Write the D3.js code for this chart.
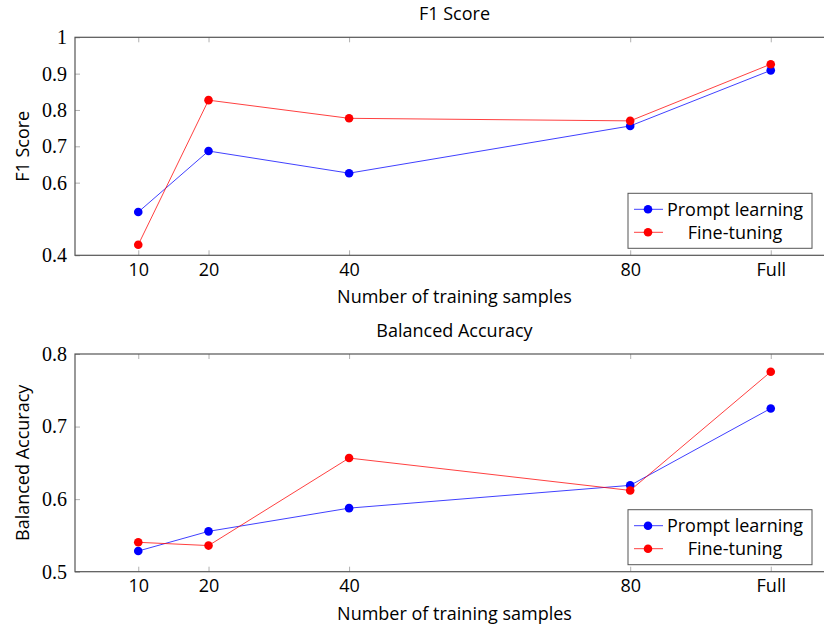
<!DOCTYPE html>
<html>
<head>
<meta charset="utf-8">
<script src="https://cdn.jsdelivr.net/npm/d3@7"></script>
<style>
  html, body { margin: 0; padding: 0; background: #fff; }
  svg { display: block; }
  .sans { font-family: "Open Sans", sans-serif; }
</style>
</head>
<body>
<svg id="chart" width="824" height="628"></svg>
<script>
// ---- data ----
const categories = ["10", "20", "40", "80", "Full"];
const xValues = [10, 20, 40, 80, 100];
const f1Prompt = [0.519, 0.687, 0.626, 0.756, 0.909];
const f1Fine   = [0.429, 0.827, 0.777, 0.770, 0.926];
const baPrompt = [0.5285, 0.5556, 0.5876, 0.619, 0.725];
const baFine   = [0.5405, 0.536, 0.6566, 0.612, 0.7755];
const f1Ticks = [0.4, 0.6, 0.7, 0.8, 0.9, 1];
const baTicks = [0.5, 0.6, 0.7, 0.8];
const seriesNames = ["Prompt learning", "Fine-tuning"];
const seriesColors = ["#0000ff", "#ff0000"];

const svg = d3.select("#chart");

function panel(cfg) {
  const g = svg.append("g");
  const x = d3.scaleLinear().domain([1, 109]).range([75, 834]);
  const y = d3.scaleLinear().domain(cfg.yDomain).range([cfg.bottom, cfg.top]);

  // ticks
  const xb = g.append("g").attr("transform", `translate(0,${cfg.bottom})`)
    .call(d3.axisBottom(x).tickValues(xValues).tickFormat((d, i) => categories[i]).tickSize(-5).tickPadding(8));
  xb.select(".domain").remove();
  xb.selectAll("line").attr("stroke", "#b0b0b0");
  xb.selectAll("text").attr("class", "sans").attr("font-size", 18).attr("fill", "#000");

  const xt = g.append("g").attr("transform", `translate(0,${cfg.top})`)
    .call(d3.axisTop(x).tickValues(xValues).tickFormat("").tickSize(-5));
  xt.select(".domain").remove();
  xt.selectAll("line").attr("stroke", "#b0b0b0");

  const yl = g.append("g").attr("transform", `translate(75,0)`)
    .call(d3.axisLeft(y).tickValues(cfg.yTicks).tickFormat(d => String(d)).tickSize(-5).tickPadding(8));
  yl.select(".domain").remove();
  yl.selectAll("line").attr("stroke", "#b0b0b0");
  yl.selectAll("text").attr("font-family", "'Liberation Serif', serif").attr("font-size", 20).attr("fill", "#000");

  // frame
  g.append("rect").attr("x", x.range()[0]).attr("y", cfg.top)
    .attr("width", x.range()[1] - x.range()[0]).attr("height", cfg.bottom - cfg.top)
    .attr("fill", "none").attr("stroke", "#555").attr("stroke-width", 1.2);

  // series
  const line = d3.line().x((d, i) => x(xValues[i])).y(d => y(d));
  cfg.series.forEach((s, k) => {
    g.append("path").datum(s).attr("d", line).attr("fill", "none")
      .attr("stroke", seriesColors[k]).attr("stroke-width", 1).attr("stroke-opacity", 0.75);
    g.selectAll(null).data(s).enter().append("circle")
      .attr("cx", (d, i) => x(xValues[i])).attr("cy", d => y(d)).attr("r", 4.3)
      .attr("fill", seriesColors[k]);
  });

  // titles
  const cx = (x.range()[0] + x.range()[1]) / 2;
  g.append("text").attr("class", "sans").attr("x", cx).attr("y", cfg.top - 17.5)
    .attr("text-anchor", "middle").attr("font-size", 18).text(cfg.title);
  g.append("text").attr("class", "sans").attr("x", cx).attr("y", cfg.bottom + 48)
    .attr("text-anchor", "middle").attr("font-size", 18).text("Number of training samples");
  g.append("text").attr("class", "sans")
    .attr("transform", `translate(29,${(cfg.top + cfg.bottom) / 2}) rotate(-90)`)
    .attr("text-anchor", "middle").attr("font-size", 18).text(cfg.yLabel);

  // legend
  const lg = g.append("g").attr("transform", `translate(628,${cfg.bottom - 62})`);
  lg.append("rect").attr("width", 184).attr("height", 55)
    .attr("fill", "#fff").attr("stroke", "#555").attr("stroke-width", 1);
  seriesNames.forEach((name, k) => {
    const ry = 16 + k * 23;
    lg.append("line").attr("x1", 6).attr("x2", 35).attr("y1", ry).attr("y2", ry)
      .attr("stroke", seriesColors[k]).attr("stroke-width", 1).attr("stroke-opacity", 0.75);
    lg.append("circle").attr("cx", 20).attr("cy", ry).attr("r", 4.3).attr("fill", seriesColors[k]);
    lg.append("text").attr("class", "sans").attr("x", 107).attr("y", ry).attr("dy", "0.35em")
      .attr("text-anchor", "middle").attr("font-size", 18).text(name);
  });
}

panel({ top: 37.3, bottom: 255.3, yDomain: [0.4, 1], yTicks: f1Ticks,
        title: "F1 Score", yLabel: "F1 Score", series: [f1Prompt, f1Fine] });
panel({ top: 354, bottom: 571.7, yDomain: [0.5, 0.8], yTicks: baTicks,
        title: "Balanced Accuracy", yLabel: "Balanced Accuracy", series: [baPrompt, baFine] });
</script>
</body>
</html>
